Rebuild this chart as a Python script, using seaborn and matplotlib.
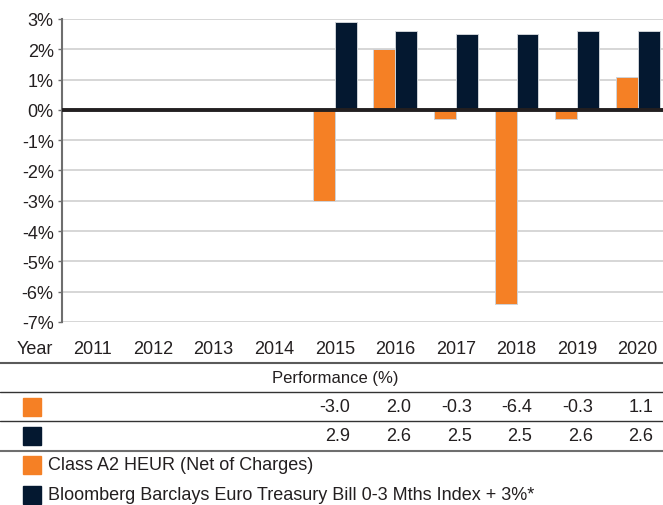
import numpy as np
import pandas as pd
import matplotlib
matplotlib.use("Agg")
import matplotlib.pyplot as plt
import matplotlib.transforms as mtransforms
from matplotlib.lines import Line2D
from matplotlib.patches import Rectangle
import seaborn as sns

years = ["2011", "2012", "2013", "2014", "2015", "2016", "2017", "2018", "2019", "2020"]
fund = [np.nan, np.nan, np.nan, np.nan, -3.0, 2.0, -0.3, -6.4, -0.3, 1.1]
index = [np.nan, np.nan, np.nan, np.nan, 2.9, 2.6, 2.5, 2.5, 2.6, 2.6]
fund_name = "Class A2 HEUR (Net of Charges)"
index_name = "Bloomberg Barclays Euro Treasury Bill 0-3 Mths Index + 3%*"
y_ticks = [3, 2, 1, 0, -1, -2, -3, -4, -5, -6, -7]

orange = "#f58025"
navy = "#041830"
W, H = 663, 506

sns.set_style("white")
plt.rcParams["font.family"] = ["Liberation Sans", "DejaVu Sans"]
plt.rcParams["font.size"] = 13
plt.rcParams["text.color"] = "#231f20"

df = pd.DataFrame({
    "Year": years * 2,
    "Value": fund + index,
    "Series": [fund_name] * len(years) + [index_name] * len(years),
})

fig = plt.figure(figsize=(W / 100, H / 100), dpi=100)
ax = fig.add_axes([62 / W, 1 - 323 / H, 606 / W, 303 / H])

sns.barplot(data=df, x="Year", y="Value", hue="Series", order=years,
            hue_order=[fund_name, index_name], palette=[orange, navy],
            saturation=1, width=0.726, gap=0, edgecolor="#cfd3d8", linewidth=0.7,
            legend=False, ax=ax, zorder=2)

ax.set_xlim(-0.5, 9.5)
ax.set_ylim(-7, 3)
ax.set_yticks(y_ticks)
ax.set_yticklabels([f"{v}%" for v in y_ticks])
ax.set_xlabel("")
ax.set_ylabel("")
ax.yaxis.grid(True, color="#cfcfcf", lw=1.2, zorder=0)
ax.set_axisbelow(True)
ax.axhline(0, color="#231f20", lw=2.8, zorder=3)
for s in ["top", "right", "bottom"]:
    ax.spines[s].set_visible(False)
ax.spines["left"].set_color("#6e6e6e")
ax.spines["left"].set_linewidth(1.5)
ax.tick_params(axis="y", left=True, length=3, width=1, color="#6e6e6e", pad=3,
               labelsize=13, labelcolor="#231f20")
ax.tick_params(axis="x", length=0, pad=19.4, labelsize=13, labelcolor="#231f20")
for t in ax.get_xticklabels():
    t.set_va("center")

# table under the chart
fig.text(53 / W, 1 - 350 / H, "Year", ha="right", va="center", fontsize=13)
fig.text(335 / W, 1 - 379 / H, "Performance (%)", ha="center", va="center", fontsize=12)

for y, c, lw in [(364, "#5a5a5a", 1.5), (393, "#333333", 1.0),
                 (422, "#333333", 1.0), (452, "#6e6e6e", 1.5)]:
    fig.add_artist(Line2D([0, 1], [1 - y / H] * 2, transform=fig.transFigure,
                          color=c, lw=lw))

sq_w, sq_h = 18 / W, 18 / H
blend = mtransforms.blended_transform_factory(ax.transData, fig.transFigure)
for vals, color, yc in [(fund, orange, 408), (index, navy, 437)]:
    fig.add_artist(Rectangle((23 / W, 1 - (yc + 9) / H), sq_w, sq_h,
                             transform=fig.transFigure, color=color))
    for i, v in enumerate(vals):
        if not np.isnan(v):
            ax.text(i + 0.26, 1 - yc / H, f"{v:.1f}", transform=blend,
                    ha="right", va="center", fontsize=13, clip_on=False)

# legend
for name, color, yc in [(fund_name, orange, 466), (index_name, navy, 496)]:
    fig.add_artist(Rectangle((23 / W, 1 - (yc + 9) / H), sq_w, sq_h,
                             transform=fig.transFigure, color=color))
    fig.text(48 / W, 1 - yc / H, name, ha="left", va="center", fontsize=13)

fig.savefig("out.png", dpi=100)
